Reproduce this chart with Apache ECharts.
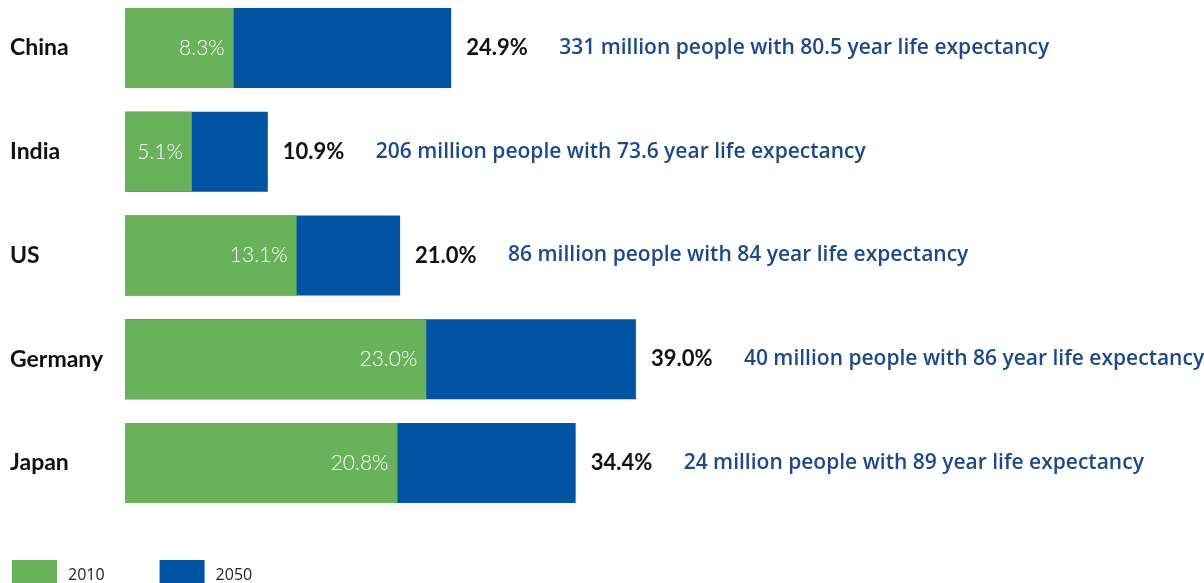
<!DOCTYPE html>
<html><head><meta charset="utf-8">
<script src="https://cdn.jsdelivr.net/npm/echarts@6/dist/echarts.min.js"></script>
<style>html,body{margin:0;padding:0;background:#fff}#c{width:1204px;height:583px}</style>
</head><body><div id="c"></div>
<script>
const categories = ['China', 'India', 'US', 'Germany', 'Japan'];
const v2010 = [8.3, 5.1, 13.1, 23.0, 20.8];
const v2050 = [24.9, 10.9, 21.0, 39.0, 34.4];
const notes = [
  '331 million people with 80.5 year life expectancy',
  '206 million people with 73.6 year life expectancy',
  '86 million people with 84 year life expectancy',
  '40 million people with 86 year life expectancy',
  '24 million people with 89 year life expectancy'
];
const seriesNames = ['2010', '2050'];

const chart = echarts.init(document.getElementById('c'));
chart.setOption({
  animation: false,
  textStyle: { fontFamily: 'Lato' },
  grid: { left: 125, top: 48, width: 1048, height: 415 },
  xAxis: { type: 'value', min: 0, max: 80, show: false },
  yAxis: {
    type: 'category', data: categories, inverse: true, boundaryGap: false,
    axisLine: { show: false }, axisTick: { show: false }, splitLine: { show: false },
    axisLabel: { align: 'left', margin: 115, fontSize: 23, fontWeight: 'bold', color: '#111', fontFamily: 'Lato' }
  },
  legend: {
    data: seriesNames, left: 12, top: 560, padding: 0, itemWidth: 45, itemHeight: 30, itemGap: 55,
    icon: 'rect', textStyle: { fontSize: 16, color: '#222', fontFamily: 'Open Sans', padding: [0, 0, 0, 6] }
  },
  series: [
    {
      name: seriesNames[1], type: 'bar', data: v2050, barWidth: 80, barGap: '-100%', z: 2,
      itemStyle: { color: '#0054A3' },
      label: {
        show: true, position: 'right', distance: 15,
        formatter: p => '{v|' + p.value.toFixed(1) + '%}{a|' + notes[p.dataIndex] + '}',
        rich: {
          v: { width: 93, fontSize: 22, fontWeight: 'bold', color: '#111', fontFamily: 'Lato' },
          a: { fontSize: 21, fontWeight: 600, color: '#1B4A87', fontFamily: 'Open Sans' }
        }
      }
    },
    {
      name: seriesNames[0], type: 'bar', data: v2010, barWidth: 80, barGap: '-100%', z: 3,
      itemStyle: { color: '#69B15B' },
      label: {
        show: true, position: 'insideRight', distance: 9,
        formatter: p => p.value.toFixed(1) + '%',
        fontSize: 21, fontWeight: 300, color: '#fff', fontFamily: 'Lato'
      }
    }
  ]
});
</script></body></html>
